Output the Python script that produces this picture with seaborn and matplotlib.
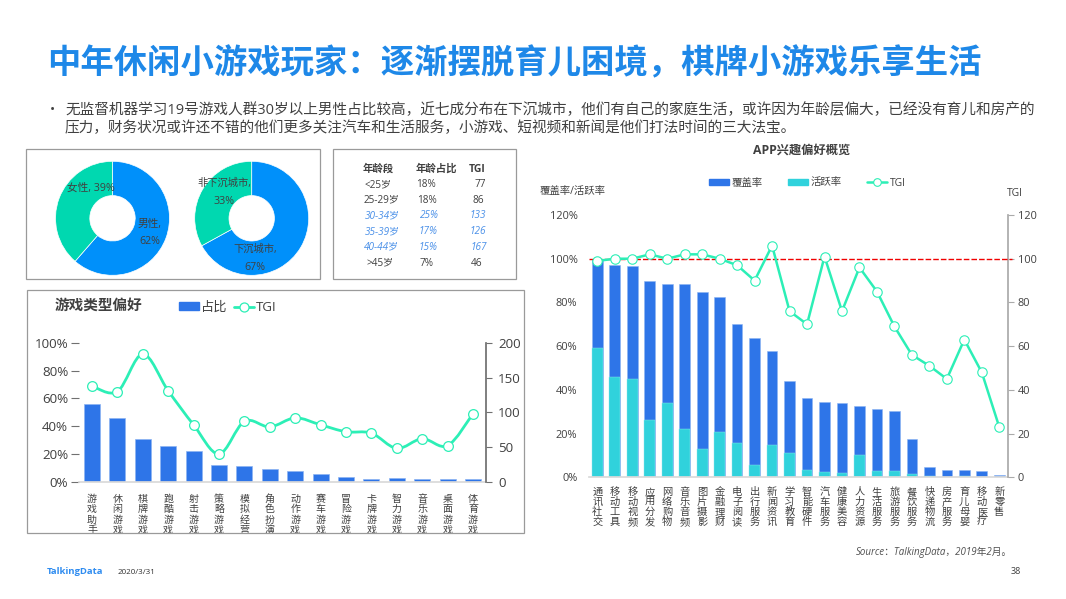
import numpy as np
import matplotlib
matplotlib.use("Agg")
import matplotlib.pyplot as plt
from matplotlib.path import Path
from matplotlib.patches import PathPatch, Patch, Rectangle
from matplotlib.lines import Line2D
import seaborn as sns

W, H = 1066, 599
sns.set_theme(style="white")
plt.rcParams['font.family'] = ['Noto Sans CJK SC', 'DejaVu Sans']
LATIN = ['Open Sans', 'Noto Sans CJK SC', 'DejaVu Sans']

game_types = ["游戏助手", "休闲游戏", "棋牌游戏", "跑酷游戏", "射击游戏", "策略游戏", "模拟经营", "角色扮演",
              "动作游戏", "赛车游戏", "冒险游戏", "卡牌游戏", "智力游戏", "音乐游戏", "桌面游戏", "体育游戏"]
game_share = [56, 46, 30.5, 25.5, 22, 12, 11, 9, 7.5, 5.5, 3.5, 2, 2.5, 2, 2, 2]
game_tgi = [138, 130, 184, 131, 82, 40, 87, 79, 92, 82, 72, 70, 48, 62, 52, 98]

app_types = ["通讯社交", "移动工具", "移动视频", "应用分发", "网络购物", "音乐音频", "图片摄影", "金融理财",
             "电子阅读", "出行服务", "新闻资讯", "学习教育", "智能硬件", "汽车服务", "健康美容", "人力资源",
             "生活服务", "旅游服务", "餐饮服务", "快递物流", "房产服务", "育儿母婴", "移动医疗", "新零售"]
app_cover = [100, 97, 96.5, 90, 88.5, 88.3, 84.7, 82.5, 70.3, 63.7, 57.7, 44, 36.2, 34.3, 34, 32.7,
             31.2, 30.3, 17.3, 4.7, 3.5, 3.3, 3, 1]
app_active = [59, 46, 45, 26, 34, 22, 13, 20.5, 15.7, 5.5, 14.7, 11, 3.3, 2.5, 2, 10.3,
              2.8, 3, 1.3, 0.4, 0.3, 0.5, 0.2, 0.1]
app_tgi = [99, 100, 100, 102, 100, 102, 102, 100, 97, 90, 106, 76, 70, 101, 76, 96,
           85, 69, 56, 51, 45, 63, 48, 23]

gender_values = [62, 39]
city_values = [67, 33]

table_header = ["年龄段", "年龄占比", "TGI"]
table_age = ["<25岁", "25-29岁", "30-34岁", "35-39岁", "40-44岁", ">45岁"]
table_share = ["18%", "18%", "25%", "17%", "15%", "7%"]
table_tgi = ["77", "86", "133", "126", "167", "46"]

C_BLUE = "#2E75E8"
C_TEAL = "#30D2DC"
C_LINE = "#2CEFB6"
C_TEXT = "#404040"
C_BOX = "#9A9A9A"
C_PIE1 = "#0090FA"
C_PIE2 = "#00D8B0"

fig = plt.figure(figsize=(W / 100, H / 100), dpi=100, facecolor="white")


def axpx(x0, y0, x1, y1, **kw):
    return fig.add_axes([x0 / W, 1 - y1 / H, (x1 - x0) / W, (y1 - y0) / H], **kw)


def T(x, y, s, size=8, color=C_TEXT, ha="center", va="center", family=LATIN, **kw):
    return fig.text(x / W, 1 - y / H, s, fontsize=size, color=color, ha=ha, va=va, family=family, **kw)


def box(x0, y0, x1, y1):
    fig.add_artist(Rectangle((x0 / W, 1 - y1 / H), (x1 - x0) / W, (y1 - y0) / H,
                             transform=fig.transFigure, fill=False, edgecolor=C_BOX, linewidth=0.9))


def vertical(labels):
    return ["\n".join(s) for s in labels]


def smooth_path(xs, ys, tension=1 / 6):
    xs = np.asarray(xs, float)
    ys = np.asarray(ys, float)
    pts = np.column_stack([xs, ys])
    verts = [pts[0]]
    codes = [Path.MOVETO]
    for i in range(len(pts) - 1):
        p0 = pts[max(i - 1, 0)]
        p1 = pts[i]
        p2 = pts[i + 1]
        p3 = pts[min(i + 2, len(pts) - 1)]
        verts += [p1 + (p2 - p0) * tension, p2 - (p3 - p1) * tension, p2]
        codes += [Path.CURVE4] * 3
    return Path(verts, codes)


# Header text
T(47, 65, "中年休闲小游戏玩家\uff1a逐渐摆脱育儿困境\uff0c棋牌小游戏乐享生活", size=24, color="#1E88E8", ha="left",
  fontweight="bold")
T(50, 111, "•", size=10, ha="left")
T(65, 111, "无监督机器学习19号游戏人群30岁以上男性占比较高\uff0c近七成分布在下沉城市\uff0c他们有自己的家庭生活\uff0c或许因为年龄层偏大\uff0c已经没有育儿和房产的",
  size=10.55, ha="left")
T(65, 129, "压力\uff0c财务状况或许还不错的他们更多关注汽车和生活服务\uff0c小游戏、短视频和新闻是他们打法时间的三大法宝。",
  size=10.55, ha="left")

# Boxes
box(26, 149, 320, 279)
box(333, 149, 516, 279)
box(26.7, 289.7, 523.7, 533)

# Donuts
for cx, vals in [(112.5, gender_values), (251.7, city_values)]:
    ax = axpx(cx - 58, 218.3 - 58, cx + 58, 218.3 + 58)
    ax.pie(vals, colors=[C_PIE1, C_PIE2], startangle=90, counterclock=False, radius=57 / 58,
           wedgeprops=dict(width=(57 - 22.7) / 58, edgecolor="white", linewidth=0.5))
    ax.set_xlim(-1, 1)
    ax.set_ylim(-1, 1)
    ax.set_aspect("equal")
    ax.axis("off")

T(91, 188, "女性, 39%", size=7.7)
T(150, 224, "男性,", size=7.7)
T(150, 242, "62%", size=7.7)
T(224, 183, "非下沉城市,", size=7.4)
T(224, 201, "33%", size=7.7)
T(255, 249, "下沉城市,", size=7.4)
T(255, 267, "67%", size=7.7)

# Table
for x, s in zip([378, 436, 477], table_header):
    T(x, 169, s, size=7.5, fontweight="bold")
rows_y = [184.7, 200.3, 216, 231.7, 247.3, 263]
xa = [378, 382, 382, 382, 381, 380]
xs_ = [426, 427, 429, 428, 428, 427]
xt = [480, 478, 478, 478, 479, 477]
for i, y in enumerate(rows_y):
    hl = i in (2, 3, 4)
    kw = dict(size=7.2, color="#4A90E8" if hl else C_TEXT, style="italic" if hl else "normal")
    T(xa[i], y, table_age[i], **kw)
    T(xs_[i], y, table_share[i], **kw)
    T(xt[i], y, table_tgi[i], **kw)

# Left combo chart
ax1 = axpx(79.3, 343, 485.7, 481.7)
sns.barplot(x=game_types, y=game_share, color=C_BLUE, saturation=1, width=0.63, ax=ax1,
            edgecolor="#8DB4F2", linewidth=0.5)
ax1.set_ylim(0, 100)
ax1.set_xlim(-0.5, len(game_types) - 0.5)
ax1.set_yticks([0, 20, 40, 60, 80, 100])
ax1.set_yticklabels(["0%", "20%", "40%", "60%", "80%", "100%"], family=LATIN)
ax1.set_xticks(range(len(game_types)))
ax1.set_xticklabels(vertical(game_types), linespacing=1.02, va="top")
ax1.tick_params(axis="y", length=6, width=0.8, color="#707070", labelsize=9.6, labelcolor=C_TEXT, left=True, pad=2)
ax1.tick_params(axis="x", length=0, labelsize=7.2, labelcolor=C_TEXT, pad=9)
for s in ("top", "left", "right"):
    ax1.spines[s].set_visible(False)
ax1.spines["bottom"].set_color("#D9D9D9")
ax1.set_xlabel("")
ax1.set_ylabel("")

ax1r = ax1.twinx()
x_game = np.arange(len(game_types))
ax1r.add_patch(PathPatch(smooth_path(x_game, game_tgi), fill=False, edgecolor=C_LINE, linewidth=2, zorder=3))
sns.lineplot(x=x_game, y=game_tgi, ax=ax1r, linewidth=0, marker="o", markersize=7,
             markerfacecolor="white", markeredgecolor=C_LINE, markeredgewidth=0.9, zorder=4, errorbar=None)
ax1r.set_ylim(0, 200)
ax1r.set_xlim(-0.5, len(game_types) - 0.5)
ax1r.set_yticks([0, 50, 100, 150, 200])
ax1r.set_yticklabels(["0", "50", "100", "150", "200"], family=LATIN)
ax1r.tick_params(axis="y", right=True, length=4, width=0.8, color="#707070", labelsize=9.6, labelcolor=C_TEXT, pad=5)
for s in ("top", "left", "bottom"):
    ax1r.spines[s].set_visible(False)
ax1r.spines["right"].set_color("#707070")
ax1r.set_xlabel("")
ax1r.set_ylabel("")

T(55, 305.7, "游戏类型偏好", size=10.5, fontweight="bold", ha="left")
fig.legend(handles=[Patch(color=C_BLUE, label="占比"),
                    Line2D([], [], color=C_LINE, lw=2, marker="o", ms=6.5, mfc="white", mec=C_LINE, mew=0.9, label="TGI")],
           ncol=2, frameon=False, labelcolor=C_TEXT, loc="center left",
           bbox_to_anchor=(179 / W, 1 - 307.5 / H), handlelength=1.5, handleheight=0.55, handletextpad=0.2,
           columnspacing=0.45, borderpad=0, borderaxespad=0, prop=dict(family=LATIN, size=9.5))

# Right combo chart
ax2 = axpx(588.6, 215, 1008, 477.3)
sns.barplot(x=app_types, y=app_cover, color=C_BLUE, saturation=1, width=0.61, ax=ax2,
            edgecolor="#8DB4F2", linewidth=0.4)
sns.barplot(x=app_types, y=app_active, color=C_TEAL, saturation=1, width=0.61, ax=ax2,
            edgecolor="#8FE6EC", linewidth=0.3)
ax2.set_ylim(0, 120)
ax2.set_xlim(-0.5, len(app_types) - 0.5)
ax2.set_yticks([0, 20, 40, 60, 80, 100, 120])
ax2.set_yticklabels(["0%", "20%", "40%", "60%", "80%", "100%", "120%"], family=LATIN)
ax2.set_xticks(range(len(app_types)))
ax2.set_xticklabels(vertical(app_types), linespacing=1.0, va="top")
ax2.tick_params(axis="y", length=0, labelsize=7.9, labelcolor=C_TEXT, pad=8)
ax2.tick_params(axis="x", length=0, labelsize=7.4, labelcolor=C_TEXT, pad=7)
for s in ("top", "left", "right"):
    ax2.spines[s].set_visible(False)
ax2.spines["bottom"].set_color("#D9D9D9")
ax2.set_xlabel("")
ax2.set_ylabel("")

ax2r = ax2.twinx()
x_app = np.arange(len(app_types))
sns.lineplot(x=x_app, y=app_tgi, ax=ax2r, color=C_LINE, linewidth=1.8, marker="o", markersize=6.8,
             markerfacecolor="white", markeredgecolor=C_LINE, markeredgewidth=0.8, zorder=4, errorbar=None)
ax2r.axhline(100, color="#F00000", linestyle=(0, (4, 1.5)), linewidth=1, zorder=3, clip_on=False,
             xmin=0, xmax=1.01)
ax2r.set_ylim(0, 120)
ax2r.set_xlim(-0.5, len(app_types) - 0.5)
ax2r.set_yticks([0, 20, 40, 60, 80, 100, 120])
ax2r.set_yticklabels(["0", "20", "40", "60", "80", "100", "120"], family=LATIN)
ax2r.tick_params(axis="y", right=True, length=4, width=0.8, color="#AAAAAA", labelsize=7.9, labelcolor=C_TEXT, pad=3)
for s in ("top", "left", "bottom"):
    ax2r.spines[s].set_visible(False)
ax2r.spines["right"].set_color("#AAAAAA")
ax2r.set_xlabel("")
ax2r.set_ylabel("")

T(802, 150, "APP兴趣偏好概览", size=8.8, fontweight="bold")
T(540, 191.5, "覆盖率/活跃率", size=7.5, ha="left")
T(1007, 194, "TGI", size=7.5, ha="left")
fig.legend(handles=[Patch(color=C_BLUE, label="覆盖率"), Patch(color=C_TEAL, label="活跃率"),
                    Line2D([], [], color=C_LINE, lw=1.8, marker="o", ms=5.5, mfc="white", mec=C_LINE, mew=0.8, label="TGI")],
           ncol=3, frameon=False, labelcolor=C_TEXT, loc="center left",
           bbox_to_anchor=(709 / W, 1 - 183 / H), handlelength=1.9, handleheight=0.55, handletextpad=0.25,
           columnspacing=2.45, borderpad=0, borderaxespad=0, prop=dict(family=LATIN, size=7.5))

# Footer
T(1012, 552, "Source\uff1aTalkingData\uff0c2019年2月。", size=7.05, ha="right", style="italic", color="#505050")
T(1016, 571, "38", size=6.5)
T(47, 571, "TalkingData", size=6.8, color="#2F8CF0", ha="left", fontweight="bold")
T(118, 572, "2020/3/31", size=5.8, ha="left", color="#303030")

fig.savefig("out.png", dpi=100, facecolor="white")
